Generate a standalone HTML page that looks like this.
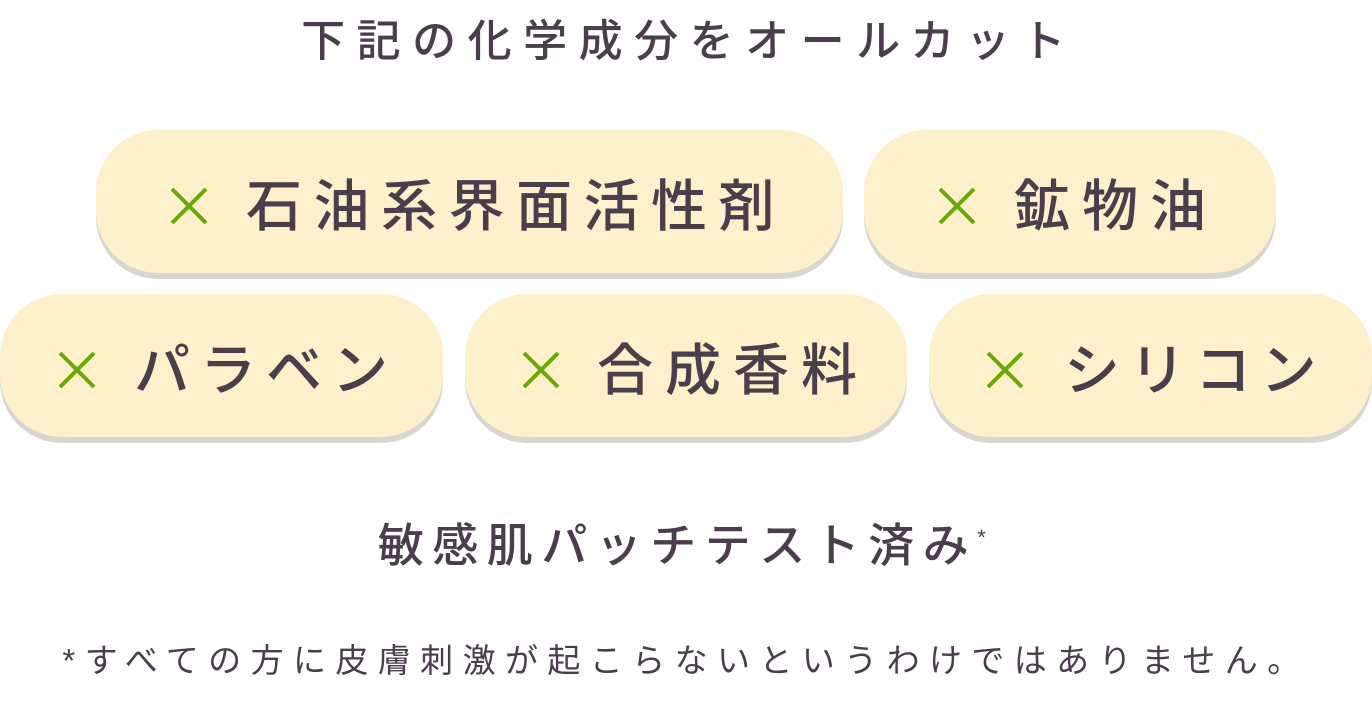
<!DOCTYPE html>
<html><head><meta charset="utf-8"><style>
body{margin:0;width:1372px;height:702px;background:#fff;position:relative;overflow:hidden;font-family:"Liberation Sans","Noto Sans CJK JP",sans-serif;color:#4a3d4c}
.t{position:absolute;left:0;width:1372px;text-align:center;white-space:nowrap}
.p{position:absolute;height:143px;border-radius:62px;background:#fff0cc;box-shadow:0 6px 0 #d8d6d3}
.p svg{position:absolute;top:57px}
.p span{position:absolute;top:5px;line-height:143px;font-size:56px;letter-spacing:11.5px;font-weight:500;white-space:nowrap}
</style></head><body>
<div class="t" style="top:12px;font-size:44px;letter-spacing:11.5px;font-weight:500;line-height:60px;padding-left:6px;box-sizing:border-box">下記の化学成分をオールカット</div>

<div class="p" style="left:96px;top:130px;width:747px"><svg style="left:74px" width="38" height="38"><path d="M2 2L36 36M36 2L2 36" stroke="#6aaa00" stroke-width="4"/></svg><span style="left:150px">石油系界面活性剤</span></div>
<div class="p" style="left:864px;top:130px;width:412px"><svg style="left:74px" width="38" height="38"><path d="M2 2L36 36M36 2L2 36" stroke="#6aaa00" stroke-width="4"/></svg><span style="left:150px;letter-spacing:12px">鉱物油</span></div>

<div class="p" style="left:0;top:294px;width:443px"><svg style="left:58px" width="38" height="38"><path d="M2 2L36 36M36 2L2 36" stroke="#6aaa00" stroke-width="4"/></svg><span style="left:134px;letter-spacing:10px">パラベン</span></div>
<div class="p" style="left:465px;top:294px;width:442px"><svg style="left:57px" width="38" height="38"><path d="M2 2L36 36M36 2L2 36" stroke="#6aaa00" stroke-width="4"/></svg><span style="left:132px;letter-spacing:12px">合成香料</span></div>
<div class="p" style="left:929px;top:294px;width:443px"><svg style="left:57px" width="38" height="38"><path d="M2 2L36 36M36 2L2 36" stroke="#6aaa00" stroke-width="4"/></svg><span style="left:135px;letter-spacing:9.5px">シリコン</span></div>

<div class="t" style="top:508px;font-size:46px;letter-spacing:8.5px;font-weight:500;line-height:60px">敏感肌パッチテスト済み<sup style="font-size:22px">*</sup></div>
<div class="t" style="top:636px;font-size:33px;letter-spacing:9.4px;line-height:50px">*すべての方に皮膚刺激が起こらないというわけではありません。</div>
</body></html>
